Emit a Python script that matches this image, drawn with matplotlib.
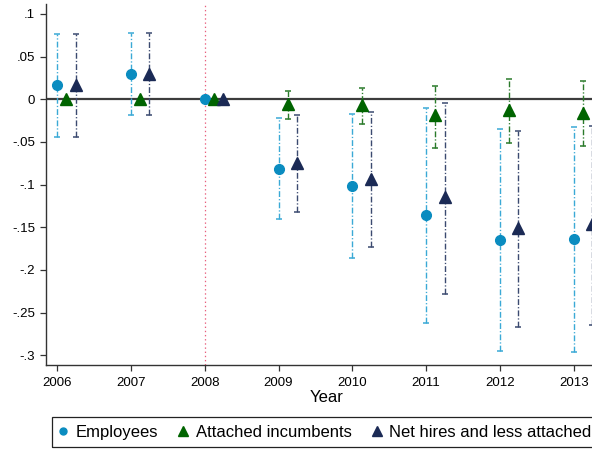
import numpy as np
import matplotlib
matplotlib.use("Agg")
import matplotlib.pyplot as plt
from matplotlib.lines import Line2D
from matplotlib.patches import Rectangle

plt.rcParams['font.family'] = ['Liberation Sans', 'DejaVu Sans']
plt.rcParams['lines.scale_dashes'] = False

years = [2006, 2007, 2008, 2009, 2010, 2011, 2012, 2013]
year_labels = ["2006", "2007", "2008", "2009", "2010", "2011", "2012", "2013"]

emp_coef = [0.0164, 0.030, 0.0, -0.082, -0.1012, -0.1359, -0.1648, -0.164]
emp_lo = [-0.0438, -0.0187, np.nan, -0.1406, -0.1856, -0.2617, -0.2949, -0.296]
emp_hi = [0.0765, 0.078, np.nan, -0.0223, -0.0172, -0.0098, -0.0344, -0.0321]

att_coef = [0.0, 0.0, 0.0, -0.006, -0.007, -0.019, -0.0125, -0.0164]
att_lo = [np.nan, np.nan, np.nan, -0.023, -0.029, -0.0567, -0.0516, -0.0547]
att_hi = [np.nan, np.nan, np.nan, 0.0094, 0.0132, 0.016, 0.0241, 0.021]

net_coef = [0.0164, 0.030, 0.0, -0.075, -0.093, -0.1148, -0.151, -0.1464]
net_lo = [-0.0438, -0.0187, np.nan, -0.132, -0.1734, -0.228, -0.2664, -0.2644]
net_hi = [0.0765, 0.078, np.nan, -0.0184, -0.0149, -0.0047, -0.0368, -0.0309]

y_ticks = [0.1, 0.05, 0.0, -0.05, -0.1, -0.15, -0.2, -0.25, -0.3]
y_tick_labels = [".1", ".05", "0", "-.05", "-.1", "-.15", "-.2", "-.25", "-.3"]

series = [
    ("Employees", emp_coef, emp_lo, emp_hi, 0.0, 'o', '#0a8cc0', '#3aa9d6', 7.0, 5.0),
    ("Attached incumbents", att_coef, att_lo, att_hi, 0.125, '^', '#006400', '#2a7a2a', 8.0, 7.0),
    ("Net hires and less attached", net_coef, net_lo, net_hi, 0.25, '^', '#1b2a55', '#3b4a70', 8.0, 7.0),
]

W, H = 592, 449
fig = plt.figure(figsize=(W / 100, H / 100), dpi=100)
ax_left = 46 / W
ax_bottom = 1 - 365 / H
ax_top = 1 - 4 / H
ax_width = 561 / W
ax = fig.add_axes([ax_left, ax_bottom, ax_width, ax_top - ax_bottom])

ax.set_xlim(2005.85, 2013.45)
ax.set_ylim(-0.3113, 0.1116)

ax.axvline(2008, color='#e8607e', lw=0.9, linestyle=(0, (1, 2)), zorder=1)
ax.axhline(0, color='#3c3c3c', lw=1.6, zorder=2)

ci_style = (0, (4.2, 1.5, 0.9, 1.5))
handles = []
for name, coef, lo, hi, off, mk, mc, cc, ms, lms in series:
    x = np.array(years, dtype=float) + off
    coef = np.array(coef)
    lo = np.array(lo)
    hi = np.array(hi)
    ok = ~np.isnan(lo)
    ax.vlines(x[ok], lo[ok], hi[ok], colors=cc, linestyles=[ci_style], lw=1.0, zorder=3)
    ax.plot(x[ok], lo[ok], linestyle='none', marker='_', ms=5, mew=1.1, color=cc, zorder=3)
    ax.plot(x[ok], hi[ok], linestyle='none', marker='_', ms=5, mew=1.1, color=cc, zorder=3)
    ax.plot(x, coef, linestyle='none', marker=mk, ms=ms, color=mc, mec=mc, zorder=4)
    handles.append(Line2D([], [], linestyle='none', marker=mk, ms=lms, color=mc, label=name))

for s in ['top', 'right']:
    ax.spines[s].set_visible(False)
for s in ['left', 'bottom']:
    ax.spines[s].set_color('#333333')
    ax.spines[s].set_linewidth(1.0)

ax.set_xticks(years)
ax.set_xticklabels(year_labels)
ax.set_yticks(y_ticks)
ax.set_yticklabels(y_tick_labels)
ax.tick_params(axis='both', direction='out', length=4.3, width=0.9, color='#333333',
               labelsize=9.5)
ax.tick_params(axis='x', pad=4)
ax.set_xlabel("Year", fontsize=12, labelpad=1)

# legend box (extends past the right edge, as in the reference)
fig.patches.append(Rectangle((52 / W, 1 - 447.3 / H), (640 - 52) / W, 30 / H,
                             transform=fig.transFigure, fill=False,
                             edgecolor='#222222', lw=0.9))

fs = 12
leg = fig.legend(handles=handles, loc='center left',
                 bbox_to_anchor=(56.5 / W, 1 - 432.5 / H), ncol=3,
                 frameon=False, fontsize=fs, handlelength=0.8, handletextpad=0.35,
                 columnspacing=1.1, borderpad=0, borderaxespad=0)

fig.savefig("out.png", dpi=100)
